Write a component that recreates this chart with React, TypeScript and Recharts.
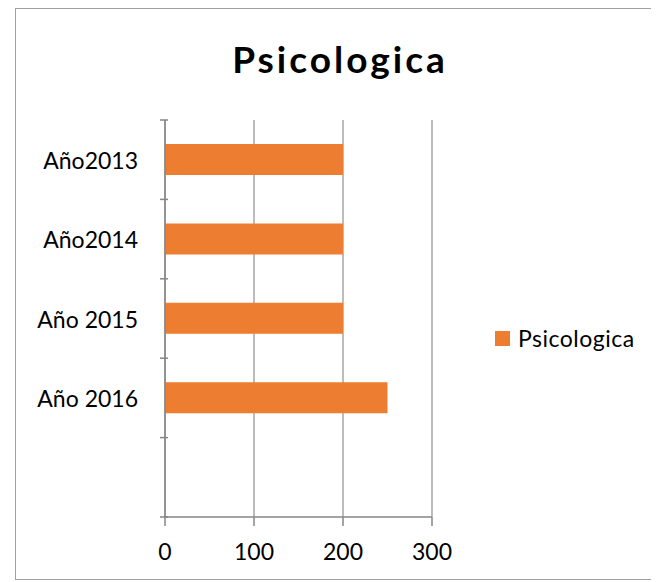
import React from "react";
import { BarChart, Bar, XAxis, YAxis, CartesianGrid } from "recharts";

const categories = ["Año2013", "Año2014", "Año 2015", "Año 2016", ""];
const values = [200, 200, 200, 250, null];
const xTicks = [0, 100, 200, 300];
const seriesName = "Psicologica";
const title = "Psicologica";

const data = categories.map((c, i) => ({ name: c, value: values[i] }));

const W = 659;
const H = 582;
const MARGIN = { top: 120, right: 227, bottom: 35, left: 105 };
const YW = 60;
const XH = 30;
const PLOT_H = H - MARGIN.top - MARGIN.bottom - XH;
const BAND = PLOT_H / categories.length;
const FONT = "Lato, 'Open Sans', sans-serif";
const ORANGE = "#ED7D31";
const AXIS = "#868686";
const GRID = "#A6A6A6";

const YTick = (props: any) => {
  const { x, y, payload, index } = props;
  const last = index === categories.length - 1;
  return (
    <g>
      <line x1={x + 3} x2={x + 11} y1={y - BAND / 2} y2={y - BAND / 2} stroke={AXIS} strokeWidth={1.5} />
      {last && (
        <line x1={x + 3} x2={x + 11} y1={y + BAND / 2} y2={y + BAND / 2} stroke={AXIS} strokeWidth={1.5} />
      )}
      <text x={x - 19} y={y} textAnchor="end" dominantBaseline="central" fontSize={23} fill="#000" fontFamily={FONT}>
        {payload.value}
      </text>
    </g>
  );
};

export default function App() {
  return (
    <div style={{ position: "relative", width: W, height: H, margin: "-8px 0 0 -8px", background: "#fff" }}>
      <div
        style={{
          position: "absolute",
          left: 15,
          top: 8,
          width: 642,
          height: 572,
          border: "1px solid #A0A0A0",
          boxSizing: "border-box",
        }}
      />
      <div
        style={{
          position: "absolute",
          left: 140,
          width: 400,
          top: 36,
          lineHeight: "46px",
          textAlign: "center",
          fontFamily: FONT,
          fontWeight: 700,
          fontSize: 37,
          letterSpacing: 3,
          color: "#000",
        }}
      >
        {title}
      </div>
      <div
        style={{
          position: "absolute",
          left: 495,
          top: 323,
          display: "flex",
          alignItems: "center",
          fontFamily: FONT,
          fontSize: 23,
          letterSpacing: 0.5,
          lineHeight: "30px",
          color: "#000",
        }}
      >
        <span style={{ width: 15, height: 15, background: ORANGE, display: "inline-block", marginRight: 8 }} />
        <span>{seriesName}</span>
      </div>
      <BarChart width={W} height={H} data={data} layout="vertical" margin={MARGIN} barCategoryGap="20%">
        <CartesianGrid horizontal={false} vertical={true} stroke={GRID} strokeWidth={1.5} />
        <XAxis
          type="number"
          domain={[0, 300]}
          ticks={xTicks}
          height={XH}
          stroke={AXIS}
          strokeWidth={1.5}
          tickSize={9}
          tick={{ fontSize: 23, fill: "#000", fontFamily: FONT, dy: 16 }}
          interval={0}
        />
        <YAxis
          type="category"
          dataKey="name"
          width={YW}
          stroke={AXIS}
          strokeWidth={1.5}
          tickLine={false}
          tick={<YTick />}
          interval={0}
        />
        <Bar dataKey="value" name={seriesName} fill={ORANGE} isAnimationActive={false} barSize={31} />
      </BarChart>
    </div>
  );
}
